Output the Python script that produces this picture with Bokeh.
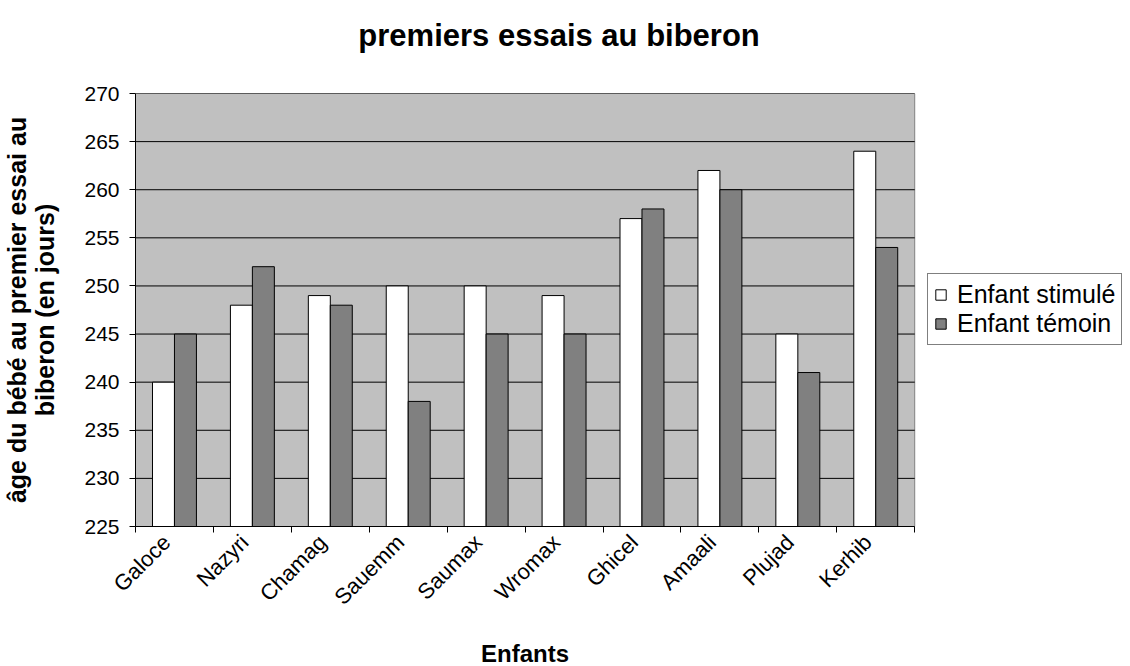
from bokeh.plotting import figure
from bokeh.models import FixedTicker, Range1d, Legend, LegendItem, ColumnDataSource
from bokeh.layouts import column
from bokeh.core.properties import value
from bokeh.embed import file_html
from bokeh.resources import INLINE
import math

categories = ["Galoce", "Nazyri", "Chamag", "Sauemm", "Saumax", "Wromax", "Ghicel", "Amaali", "Plujad", "Kerhib"]
stimule = [240, 248, 249, 250, 250, 249, 257, 262, 245, 264]
temoin = [245, 252, 248, 238, 245, 245, 258, 260, 241, 254]
y_ticks = [225, 230, 235, 240, 245, 250, 255, 260, 265, 270]
series_names = ["Enfant stimulé", "Enfant témoin"]
title_text = "premiers essais au biberon"
x_title = "Enfants"
y_title = "âge du bébé au premier essai au\nbiberon (en jours)"

FONT = "Liberation Sans"
n = len(categories)
bw = 0.282
LABEL_SHIFT = 0.1           # rotated label anchor shift (category units)
W = 1130
FL, FR = 134, 1122          # frame left / right (px); plot area ends at 914
PA_R = 914
TH, MH, BH = 60, 570, 36    # title strip, main, bottom strip heights
MB_BOTTOM = 104

def strip(h):
    f = figure(width=W, height=h, output_backend="svg", toolbar_location=None,
               x_range=Range1d(FL, FR), y_range=Range1d(0, h),
               min_border_left=FL, min_border_right=W - FR, min_border_top=0, min_border_bottom=0)
    f.axis.visible = False
    f.grid.visible = False
    f.outline_line_color = None
    f.background_fill_color = "white"
    f.border_fill_color = "white"
    return f

# ---- title strip ----
t = strip(TH)
t.text(x=[558], y=[TH - 35], text=[title_text], text_font=value(FONT), text_font_size="31px",
       text_font_style="bold", text_color="black", text_align="center", text_baseline="middle")

# ---- main chart ----
x_end = n * (FR - FL) / (PA_R - FL)
p = figure(width=W, height=MH, output_backend="svg", toolbar_location=None,
           x_range=Range1d(0, x_end), y_range=Range1d(225, 270),
           min_border_left=FL, min_border_right=W - FR, min_border_top=93 - TH, min_border_bottom=MB_BOTTOM)
p.background_fill_color = "white"
p.border_fill_color = "white"
p.outline_line_color = None
p.xgrid.visible = False
p.ygrid.visible = False

# plot area
p.quad(left=[0], right=[n], bottom=[y_ticks[0]], top=[y_ticks[-1]],
       fill_color="#c0c0c0", line_color="#808080", line_width=1)
# horizontal gridlines
p.segment(x0=[0] * len(y_ticks), x1=[n] * len(y_ticks), y0=y_ticks, y1=y_ticks,
          line_color="black", line_width=1)

src = ColumnDataSource(dict(
    xs=[i + 0.5 - bw / 2 for i in range(n)],
    xt=[i + 0.5 + bw / 2 for i in range(n)],
    s=stimule, t=temoin, cat=categories))

r1 = p.vbar(x="xs", top="s", bottom=225, width=bw, source=src, fill_color="white", line_color="black", line_width=1)
r2 = p.vbar(x="xt", top="t", bottom=225, width=bw, source=src, fill_color="#808080", line_color="black", line_width=1)

# y axis
ya = p.yaxis[0]
ya.ticker = FixedTicker(ticks=y_ticks)
ya.major_tick_out = 6
ya.major_tick_in = 0
ya.minor_tick_line_color = None
ya.axis_line_color = "black"
ya.major_tick_line_color = "black"
ya.major_label_text_font = FONT
ya.major_label_text_font_size = "21px"
ya.major_label_text_color = "black"
ya.major_label_standoff = 10
ya.axis_label = y_title
ya.axis_label_text_font = FONT
ya.axis_label_text_font_size = "25px"
ya.axis_label_text_font_style = "bold"
ya.axis_label_text_color = "black"
ya.axis_label_text_line_height = 1.0
ya.axis_label_standoff = 22

# x axis
label_pos = [i + 0.5 - LABEL_SHIFT for i in range(n)]
xa = p.xaxis[0]
xa.bounds = (0, n)
xa.ticker = FixedTicker(ticks=label_pos, minor_ticks=list(range(n + 1)))
xa.major_label_overrides = {pos: c for pos, c in zip(label_pos, categories)}
xa.major_tick_line_color = None
xa.minor_tick_line_color = "black"
xa.minor_tick_out = 6
xa.minor_tick_in = 0
xa.axis_line_color = "black"
xa.major_label_orientation = math.pi / 4
xa.major_label_text_font = FONT
xa.major_label_text_font_size = "22px"
xa.major_label_text_color = "black"
xa.major_label_standoff = 6

legend = Legend(items=[LegendItem(label=series_names[0], renderers=[r1]),
                       LegendItem(label=series_names[1], renderers=[r2])],
                location=(926 - FL, 181), orientation="vertical",
                border_line_color="black", border_line_width=1,
                background_fill_color="white", background_fill_alpha=1,
                label_text_font=FONT, label_text_font_size="25px", label_text_color="black",
                glyph_width=13, glyph_height=13, spacing=0, padding=6, margin=0,
                label_standoff=10)
p.add_layout(legend, "center")

# ---- bottom strip with x-axis title ----
b = strip(BH)
b.text(x=[524], y=[13], text=[x_title], text_font=value(FONT), text_font_size="24px",
       text_font_style="bold", text_color="black", text_align="center", text_baseline="middle")

layout = column(t, p, b, spacing=0)
open("out.html", "w").write(file_html(layout, INLINE))
